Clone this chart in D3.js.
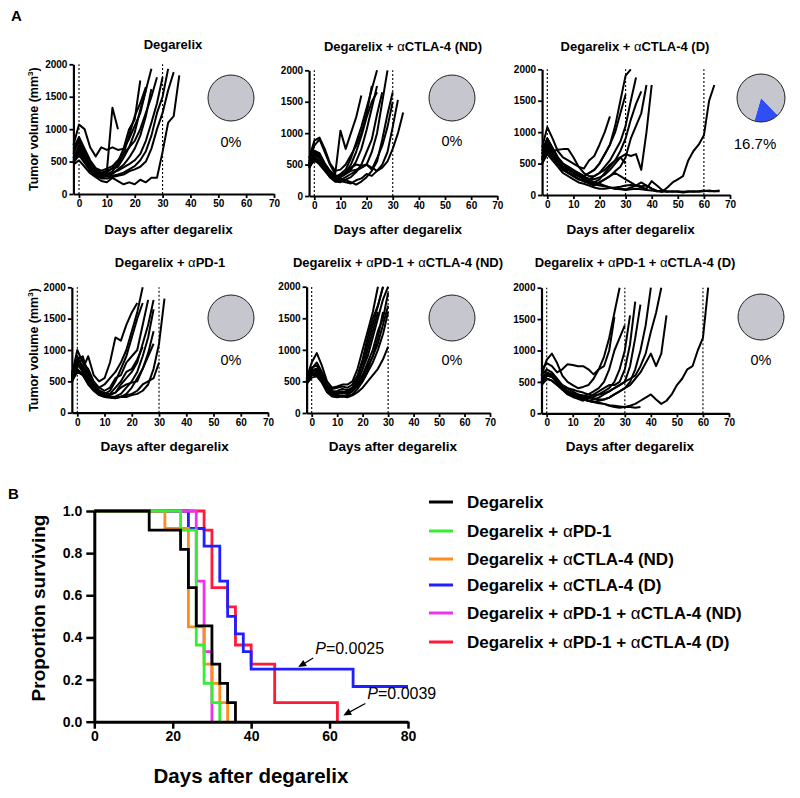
<!DOCTYPE html>
<html><head><meta charset="utf-8">
<script src="https://cdn.jsdelivr.net/npm/d3@7"></script>
<style>body{margin:0;background:#fff} svg{display:block}</style>
</head><body><svg id="c" width="800" height="798"></svg>
<script>
// ---------------- DATA ----------------
// Panel A: tumour volume (mm3) per mouse, measured from day -2 every 2 days
const firstMeasureDay = -2, measureStep = 2;
const panelTitles = ["Degarelix", "Degarelix + αCTLA-4 (ND)", "Degarelix + αCTLA-4 (D)",
  "Degarelix + αPD-1", "Degarelix + αPD-1 + αCTLA-4 (ND)", "Degarelix + αPD-1 + αCTLA-4 (D)"];
const responderPct = [0, 0, 16.7, 0, 0, 0];
const responderLabels = ["0%", "0%", "16.7%", "0%", "0%", "0%"];
const volumeTicks = [0, 500, 1000, 1500, 2000];
const dayTicks = [0, 10, 20, 30, 40, 50, 60, 70];
const markerDaysShort = [0, 30];
const markerDaysLong = [0, 30, 60];

const miceDegarelix = [
  [650, 800, 620, 450, 350, 320, 350, 1330, 1000],
  [750, 1070, 1000, 720, 580, 720, 680, 720, 680, 700, 850, 1050, 1250, 1600],
  [550, 750, 600, 450, 340, 300, 330, 400, 500, 700, 1000, 1150, 1750],
  [500, 700, 560, 400, 320, 280, 300, 350, 460, 620, 900, 1200, 1400, 1650],
  [620, 860, 650, 480, 380, 330, 360, 390, 420, 560, 720, 950, 1300, 1600, 1930],
  [520, 660, 500, 380, 300, 260, 290, 310, 380, 450, 560, 700, 900, 1200, 1620],
  [560, 720, 560, 420, 330, 290, 310, 330, 360, 410, 460, 520, 620, 820, 1100, 1400, 1800],
  [500, 620, 500, 380, 290, 260, 270, 280, 300, 330, 380, 430, 520, 660, 900, 1250, 1500, 1930],
  [480, 600, 480, 360, 280, 240, 240, 260, 280, 300, 350, 380, 420, 500, 700, 1000, 1250, 1600, 1880],
  [450, 520, 420, 320, 260, 200, 180, 250, 200, 150, 180, 150, 220, 180, 250, 250, 650, 1100, 1200, 1830],
  [700, 880, 700, 520, 400, 360, 390, 430, 520, 620, 720, 820, 1000, 1250, 1500, 1800]
];
const miceCtla4ND = [
  [550, 800, 900, 700, 500, 350, 1040, 750, 1000, 1250, 1600],
  [600, 880, 930, 750, 520, 400, 420, 500, 650, 800, 1000, 1300, 1750],
  [520, 700, 650, 500, 380, 300, 350, 420, 600, 850, 1100, 1400, 1700, 2000],
  [480, 650, 600, 450, 330, 280, 320, 380, 500, 700, 950, 1250, 1500, 1650],
  [500, 720, 680, 520, 400, 330, 300, 350, 420, 550, 750, 1050, 1400, 1750],
  [450, 600, 550, 420, 300, 230, 220, 260, 300, 380, 500, 700, 900, 1300, 1650],
  [500, 680, 620, 480, 350, 260, 250, 300, 350, 400, 450, 500, 700, 1000, 1500, 2000],
  [460, 620, 560, 430, 320, 250, 280, 250, 220, 180, 230, 300, 400, 550, 900, 1300, 1650],
  [520, 700, 640, 500, 360, 280, 300, 350, 400, 420, 450, 500, 420, 600, 800, 1100, 1500],
  [480, 560, 520, 430, 350, 300, 330, 380, 450, 500, 480, 500, 450, 400, 500, 700, 1100, 1530],
  [440, 580, 500, 400, 300, 230, 240, 220, 200, 250, 280, 350, 320, 400, 450, 550, 750, 1000, 1330]
];
const miceCtla4D = [
  [750, 1080, 900, 700, 600, 550, 500, 450, 420, 550, 620, 800, 1000, 1250],
  [650, 900, 750, 600, 500, 420, 380, 350, 300, 350, 400, 500, 650, 800, 1100, 1500, 1900, 2000],
  [600, 800, 700, 720, 730, 730, 600, 450, 350, 300, 300, 350, 450, 550, 700, 850, 1100, 1500, 1870],
  [550, 750, 650, 550, 450, 400, 350, 300, 280, 250, 300, 350, 400, 480, 550, 700, 900, 1200, 1450, 1650],
  [500, 700, 600, 480, 400, 350, 300, 250, 220, 200, 180, 200, 250, 300, 380, 450, 600, 900, 1100, 1300, 1750],
  [580, 780, 650, 520, 420, 360, 320, 300, 280, 260, 250, 280, 320, 400, 500, 600, 650, 620, 650, 400, 1000, 1750],
  [650, 850, 700, 550, 450, 400, 350, 330, 300, 350, 400, 500, 650, 800, 1000, 1300, 1600],
  [600, 800, 650, 500, 450, 400, 380, 300, 250, 220, 200, 250, 350, 450, 550, 600, 500],
  [500, 650, 550, 450, 350, 300, 250, 200, 180, 150, 120, 100, 100, 110, 120, 130, 150, 160, 150, 140, 150, 100, 60, 50, 60, 50, 60, 50, 60, 50, 60, 70, 60, 60, 70],
  [560, 720, 600, 500, 420, 350, 300, 260, 220, 200, 170, 150, 140, 120, 100, 90, 80, 90, 100, 90, 80, 70, 60, 70, 50, 60, 50, 40, 50, 60, 50, 60, 70, 60, 60],
  [700, 900, 750, 600, 500, 450, 400, 350, 300, 250, 200, 180, 150, 120, 100, 100, 90, 120, 150, 200, 150, 100, 70, 50, 120, 200, 250, 300, 550, 700, 800, 950, 1500, 1750],
  [550, 700, 600, 500, 400, 350, 300, 250, 220, 180, 150, 200, 250, 300, 350, 300, 250, 200, 150, 120, 100, 220, 150, 80, 50]
];
const micePd1 = [
  [550, 900, 700, 900, 600, 500, 550, 800, 1200, 1150, 1400, 1600, 1750],
  [600, 1000, 800, 700, 500, 400, 450, 550, 650, 800, 1000, 1300, 1600, 2000],
  [500, 800, 850, 650, 450, 350, 300, 350, 500, 700, 900, 1200, 1500, 1750],
  [650, 850, 900, 600, 450, 400, 350, 400, 550, 600, 800, 900, 1000, 1400, 1800],
  [520, 750, 700, 550, 400, 300, 280, 300, 400, 500, 650, 700, 850, 1050],
  [550, 780, 650, 500, 380, 330, 300, 280, 320, 450, 550, 650, 800, 1100, 1400, 1800],
  [480, 700, 600, 480, 380, 300, 270, 250, 260, 300, 400, 500, 650, 900, 1200, 1650],
  [600, 850, 750, 600, 450, 350, 300, 260, 240, 250, 300, 400, 550, 700, 950, 1300],
  [500, 650, 600, 450, 350, 280, 250, 240, 230, 260, 280, 300, 350, 450, 500, 550, 800],
  [520, 680, 620, 500, 380, 300, 270, 250, 240, 250, 250, 280, 300, 350, 450, 700, 1100, 1820],
  [580, 800, 700, 550, 420, 350, 320, 300, 320, 400, 450, 480, 500, 700, 900, 1100]
];
const micePd1Ctla4ND = [
  [550, 800, 950, 750, 500, 400, 420, 450, 450, 500, 700, 1000, 1300, 1600, 2000],
  [500, 700, 800, 650, 450, 380, 400, 420, 400, 450, 600, 850, 1200, 1500, 1700, 2000],
  [520, 650, 700, 600, 420, 330, 350, 380, 360, 400, 500, 700, 900, 1200, 1500, 1800, 2000],
  [480, 600, 650, 550, 380, 300, 300, 320, 300, 350, 450, 600, 800, 1000, 1300, 1500, 1900],
  [500, 620, 620, 520, 360, 280, 260, 280, 260, 300, 380, 500, 650, 800, 1000, 1250, 1600],
  [460, 560, 580, 480, 330, 260, 250, 260, 250, 280, 330, 400, 500, 600, 700, 850, 1050],
  [540, 720, 750, 620, 450, 350, 330, 340, 320, 380, 500, 700, 1000, 1300, 1600],
  [500, 680, 700, 580, 400, 320, 300, 320, 330, 400, 550, 800, 1100, 1400, 1700, 2000],
  [470, 600, 600, 500, 350, 300, 320, 330, 340, 400, 480, 600, 750, 900, 1100, 1400, 1700],
  [520, 640, 680, 560, 400, 310, 280, 260, 280, 350, 420, 550, 700, 900, 1200, 1600]
];
const micePd1Ctla4D = [
  [600, 850, 950, 800, 600, 500, 450, 400, 420, 450, 550, 700, 750, 1000, 1530],
  [700, 800, 750, 650, 700, 780, 770, 750, 750, 700, 620, 700, 900, 1200, 1600, 2000],
  [550, 650, 620, 500, 450, 400, 350, 300, 280, 300, 350, 400, 500, 700, 1000, 1200, 1400],
  [500, 620, 600, 500, 400, 350, 300, 280, 250, 240, 260, 300, 350, 400, 500, 700, 1000, 1560],
  [480, 600, 580, 480, 380, 300, 260, 230, 200, 250, 300, 350, 400, 450, 450, 500, 700, 1100, 1780],
  [520, 620, 600, 500, 400, 330, 300, 260, 230, 200, 220, 250, 300, 350, 400, 450, 500, 750, 1200, 1730],
  [450, 550, 520, 450, 380, 320, 280, 250, 220, 200, 180, 200, 220, 250, 300, 350, 400, 500, 700, 1000, 1400, 2000],
  [600, 700, 650, 550, 450, 400, 380, 350, 330, 300, 280, 300, 320, 350, 400, 450, 500, 550, 600, 750, 950, 1300, 1600, 2000],
  [520, 600, 580, 500, 420, 360, 320, 300, 280, 260, 240, 220, 220, 250, 300, 350, 400, 450, 550, 650, 800, 950, 750, 950, 1560],
  [500, 600, 580, 500, 420, 350, 300, 260, 230, 200, 180, 170, 150, 120, 100, 90, 100, 120, 150, 200, 250, 300, 220, 150, 200, 300, 450, 550, 700, 750, 1000, 1200, 2000],
  [450, 550, 520, 450, 380, 320, 280, 250, 220, 200, 180, 160, 150, 130, 120, 110, 100, 100, 90, 100]
];
const panelMice = [miceDegarelix, miceCtla4ND, miceCtla4D, micePd1, micePd1Ctla4ND, micePd1Ctla4D];

// Panel B: Kaplan-Meier steps [day, proportion]
const survivalLabels = ["Degarelix", "Degarelix + αPD-1", "Degarelix + αCTLA-4 (ND)", "Degarelix + αCTLA-4 (D)",
  "Degarelix + αPD-1 + αCTLA-4 (ND)", "Degarelix + αPD-1 + αCTLA-4 (D)"];
const survivalColors = ["#000000", "#33ee33", "#ff8c1a", "#1f1fff", "#ee33ee", "#ff1a3a"];
const kmDegarelix = [[0,1],[14,0.909],[22,0.818],[24,0.636],[26,0.455],[30,0.273],[32,0.182],[34,0.091],[36,0]];
const kmPd1 = [[0,1],[22,0.909],[26,0.364],[28,0.182],[30,0.091],[32,0]];
const kmCtla4ND = [[0,1],[18,0.917],[24,0.45],[28,0.273],[30,0.182],[32,0.091],[34,0]];
const kmCtla4D = [[0,1],[24,0.917],[28,0.833],[32,0.667],[34,0.5],[36,0.417],[38,0.333],[40,0.25],[66,0.167],[80,0.167]];
const kmPd1Ctla4ND = [[0,1],[26,0.667],[28,0.333],[30,0]];
const kmPd1Ctla4D = [[0,1],[28,0.909],[30,0.636],[34,0.545],[36,0.364],[40,0.273],[46,0.091],[62,0]];
const survivalSeries = [kmDegarelix, kmPd1, kmCtla4ND, kmCtla4D, kmPd1Ctla4ND, kmPd1Ctla4D];
const survivalDayTicks = [0, 20, 40, 60, 80];
const survivalTicks = [0, 0.2, 0.4, 0.6, 0.8, 1.0];
const pAnnotations = [{p: "0.0025", day: 52, surv: 0.25}, {p: "0.0039", day: 63.5, surv: 0.02}];

// ---------------- DRAWING ----------------
const FONT = '"Liberation Sans", Arial, Helvetica, sans-serif';
const svg = d3.select("#c").style("font-family", FONT);
svg.append("rect").attr("width", 800).attr("height", 798).attr("fill", "#fff");

function richText(sel, str) {
  const parts = str.split("α");
  parts.forEach((p, i) => {
    if (i > 0) sel.append("tspan").attr("font-weight", "normal").text("α");
    if (p) sel.append("tspan").text(p);
  });
}

const geo = [
  {x0:79, x70:274, y2k:64.3, y0:194, pie:[231,98], r:23, tx:173, ty:48.5, ly:234, py:147, ylab:true, vl:markerDaysShort},
  {x0:314.3, x70:497.3, y2k:70.3, y0:196, pie:[452,98], r:23, tx:403, ty:50.5, ly:234, py:146, vl:markerDaysShort},
  {x0:547.3, x70:730, y2k:69.3, y0:195, pie:[761,98], r:24, tx:635, ty:50.5, ly:234, py:149, vl:markerDaysLong},
  {x0:77.3, x70:268, y2k:287.3, y0:412.7, pie:[231,318], r:23, tx:170, ty:266.5, ly:451, py:365, ylab:true, vl:markerDaysShort},
  {x0:311.7, x70:490, y2k:286.7, y0:413, pie:[452,318], r:23, tx:398, ty:266.5, ly:451, py:365, vl:markerDaysShort},
  {x0:546.7, x70:729, y2k:287.7, y0:413.3, pie:[761,317], r:23, tx:635, ty:266.5, ly:451, py:365, vl:markerDaysLong}
];

svg.append("text").attr("x", 11).attr("y", 20.7).attr("font-size", 15).attr("font-weight", "bold").text("A");
svg.append("text").attr("x", 8).attr("y", 499).attr("font-size", 15).attr("font-weight", "bold").text("B");

geo.forEach((g, k) => {
  const sx0 = d3.scaleLinear().domain([0, 70]).range([g.x0, g.x70]);
  const sx = d3.scaleLinear().domain([firstMeasureDay, 70]).range([sx0(firstMeasureDay), g.x70]);
  const sy = d3.scaleLinear().domain([0, 2000]).range([g.y0, g.y2k]);
  const gp = svg.append("g");

  const t = gp.append("text").attr("x", g.tx).attr("y", g.ty).attr("text-anchor", "middle")
    .attr("font-size", 13).attr("font-weight", "bold");
  richText(t, panelTitles[k]);

  gp.selectAll("line.vl").data(g.vl).join("line")
    .attr("x1", d => sx(d)).attr("x2", d => sx(d)).attr("y1", sy(0)).attr("y2", sy(2000))
    .attr("stroke", "#000").attr("stroke-width", 1.1).attr("stroke-dasharray", "2,2");

  const line = d3.line().x((d, i) => sx(firstMeasureDay + i * measureStep)).y(d => sy(d));
  gp.selectAll("path.m").data(panelMice[k]).join("path")
    .attr("d", d => line(d)).attr("fill", "none").attr("stroke", "#000")
    .attr("stroke-width", 2).attr("stroke-linejoin", "round");

  const ax = gp.append("g").attr("transform", `translate(0,${g.y0})`)
    .call(d3.axisBottom(sx).tickValues(dayTicks).tickSize(4).tickSizeOuter(0).tickPadding(2));
  const ay = gp.append("g").attr("transform", `translate(${sx(firstMeasureDay)},0)`)
    .call(d3.axisLeft(sy).tickValues(volumeTicks).tickFormat(d3.format("d")).tickSize(4).tickSizeOuter(0).tickPadding(2));
  [ax, ay].forEach(a => {
    a.select(".domain").attr("stroke-width", 2.2);
    a.selectAll(".tick line").attr("stroke-width", 1.8);
    a.selectAll("text").attr("font-size", 10).attr("font-weight", "bold").attr("font-family", FONT).attr("fill", "#000");
  });

  gp.append("text").attr("x", (g.x0 + g.x70) / 2 - 8).attr("y", g.ly).attr("text-anchor", "middle")
    .attr("font-size", 13.5).attr("font-weight", "bold").text("Days after degarelix");
  if (g.ylab) {
    const yl = gp.append("text").attr("transform", `translate(38,${(g.y0 + g.y2k) / 2}) rotate(-90)`)
      .attr("text-anchor", "middle").attr("font-size", 12.5).attr("font-weight", "bold");
    yl.append("tspan").text("Tumor volume (mm");
    yl.append("tspan").attr("dy", -5).attr("font-size", 8).text("3");
    yl.append("tspan").attr("dy", 5).text(")");
  }

  const pct = responderPct[k];
  const pie = d3.pie().sort(null).value(d => d)
    .startAngle(Math.PI * 0.755).endAngle(Math.PI * 0.755 + 2 * Math.PI);
  const arcs = pie([pct, 100 - pct]);
  const arc = d3.arc().innerRadius(0).outerRadius(g.r);
  const pg = gp.append("g").attr("transform", `translate(${g.pie[0]},${g.pie[1]})`);
  pg.selectAll("path").data(arcs.filter(a => a.value > 0)).join("path")
    .attr("d", arc).attr("fill", d => d.index === 0 ? "#2f4ef5" : "#c6c6ce").attr("stroke", "none");
  pg.append("circle").attr("r", g.r).attr("fill", "none").attr("stroke", "#222").attr("stroke-width", 1);
  gp.append("text").attr("x", g.pie[0] - (pct > 0 ? 6 : 0)).attr("y", g.py).attr("text-anchor", "middle")
    .attr("font-size", pct > 0 ? 15 : 14.5).text(responderLabels[k]);
});

// ---------------- Panel B ----------------
const bx = d3.scaleLinear().domain([0, 80]).range([94.3, 408]);
const by = d3.scaleLinear().domain([0, 1]).range([721.7, 511]);
const bg = svg.append("g");
const step = d3.line().curve(d3.curveStepAfter).x(d => bx(d[0])).y(d => by(d[1]));
const drawOrder = [5, 3, 4, 2, 1, 0];
drawOrder.forEach(i => {
  bg.append("path").attr("d", step(survivalSeries[i])).attr("fill", "none")
    .attr("stroke", survivalColors[i]).attr("stroke-width", 2.8);
});
const bax = bg.append("g").attr("transform", `translate(0,${by(0)})`)
  .call(d3.axisBottom(bx).tickValues(survivalDayTicks).tickSize(7).tickSizeOuter(0).tickPadding(2));
const bay = bg.append("g").attr("transform", `translate(${bx(0)},0)`)
  .call(d3.axisLeft(by).tickValues(survivalTicks).tickFormat(d3.format(".1f")).tickSize(8).tickSizeOuter(0).tickPadding(4));
[bax, bay].forEach(a => {
  a.select(".domain").attr("stroke-width", 3);
  a.selectAll(".tick line").attr("stroke-width", 2.5);
  a.selectAll("text").attr("font-size", 14).attr("font-weight", "bold").attr("font-family", FONT).attr("fill", "#000");
});
bg.append("text").attr("transform", `translate(45,608) rotate(-90)`)
  .attr("text-anchor", "middle").attr("font-size", 19).attr("font-weight", "bold").text("Proportion surviving");
bg.append("text").attr("x", 251).attr("y", 783).attr("text-anchor", "middle")
  .attr("font-size", 20.5).attr("font-weight", "bold").text("Days after degarelix");

// P annotations (arrow tail offsets in px)
const arrowOffsets = [[15, -9], [22, -12]];
pAnnotations.forEach((a, i) => {
  const hx = bx(a.day), hy = by(a.surv) - 2;
  const tx = hx + arrowOffsets[i][0], ty = hy + arrowOffsets[i][1];
  const ang = Math.atan2(hy - ty, hx - tx);
  bg.append("line").attr("x1", tx).attr("y1", ty).attr("x2", hx - 6 * Math.cos(ang)).attr("y2", hy - 6 * Math.sin(ang))
    .attr("stroke", "#000").attr("stroke-width", 1.3);
  const L = 8, W = 3.5;
  const bxp = hx - L * Math.cos(ang), byp = hy - L * Math.sin(ang);
  bg.append("path").attr("d", `M${hx},${hy}L${bxp - W * Math.sin(ang)},${byp + W * Math.cos(ang)}L${bxp + W * Math.sin(ang)},${byp - W * Math.cos(ang)}Z`)
    .attr("fill", "#000");
  const t = bg.append("text").attr("x", tx + 2).attr("y", ty - 4).attr("font-size", 16);
  t.append("tspan").attr("font-style", "italic").text("P");
  t.append("tspan").text("=" + a.p);
});

// legend
const lg = svg.append("g");
survivalLabels.forEach((lab, i) => {
  const yy = [502, 531, 559, 585, 613, 642][i];
  lg.append("line").attr("x1", 429).attr("x2", 453).attr("y1", yy).attr("y2", yy)
    .attr("stroke", survivalColors[i]).attr("stroke-width", 3);
  const t = lg.append("text").attr("x", 467).attr("y", yy + 6).attr("font-size", 17).attr("font-weight", "bold");
  richText(t, lab);
});
</script></body></html>
